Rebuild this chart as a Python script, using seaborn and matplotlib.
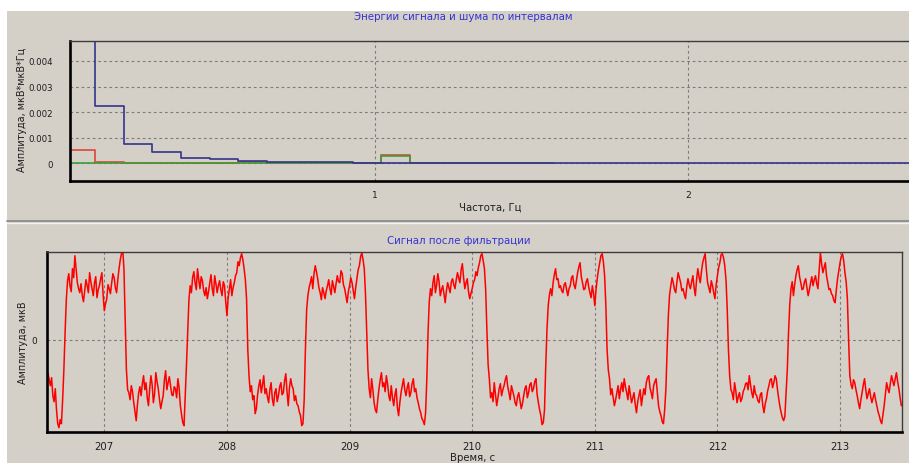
import numpy as np
import pandas as pd
import matplotlib
matplotlib.use("Agg")
import matplotlib.pyplot as plt
from matplotlib.patches import Rectangle
from matplotlib.lines import Line2D
from matplotlib.ticker import MultipleLocator
import seaborn as sns

# ---------------- band energies (upper panel) ----------------
band_start = 0.0139   # Hz, left edge of the first band
band_width = 0.0915   # Hz, width of one band

signal_energy = [0.0085, 0.00225, 0.00075, 0.00043, 0.00020, 0.00017, 0.00011,
                 0.00005, 0.00005, 0.00004, 0.00001, 0.00001, 0.00001, 0.00001,
                 0.00001, 0.00001, 0.00001, 0, 0, 0, 0, 0, 0, 0, 0, 0, 0, 0, 0, 0]
noise_energy = [0.00053, 0.00006, 0.00003, 0, 0, 0, 0.00005, 0, 0, 0, 0,
                0.00032, 0, 0, 0, 0, 0]
ref_energy = [0, 0, 0, 0, 0, 0, 0, 0, 0, 0, 0, 0.00029, 0, 0, 0, 0, 0]

freq_ticks = [1, 2]
freq_tick_labels = ["1", "2"]
energy_ticks = [0, 0.001, 0.002, 0.003, 0.004]
energy_tick_labels = ["0", "0.001", "0.002", "0.003", "0.004"]

# ---------------- filtered signal (lower panel) ----------------
t_start = 206.54   # s
t_step = 0.01      # s
filtered = [
    # 206.54 - 206.69
    -33, -40, -46, -38, -56, -62, -49, -70, -84, -88, -80, -84, -60, -30, 7, 40,
    # 206.70 - 207.16
    59, 66, 54, 48, 71, 62, 84, 70, 57, 51, 47, 56, 44, 38, 49, 60, 54, 47, 67, 58,
    51, 44, 57, 63, 42, 50, 54, 61, 67, 45, 29, 36, 41, 55, 51, 46, 57, 66, 62, 52,
    47, 60, 71, 80, 86, 90, 71,
    20, -30, -50,
    # 207.20 - 207.66
    -53, -60, -46, -52, -63, -72, -81, -65, -53, -47, -56, -44, -36, -50, -43, -58,
    -66, -49, -36, -45, -63, -54, -33, -42, -49, -60, -69, -62, -56, -40, -31, -50,
    -43, -37, -46, -55, -56, -47, -49, -58, -39, -48, -66, -75, -83, -86, -56,
    -25, 7, 40,
    # 207.70 - 208.16
    54, 47, 62, 68, 57, 50, 71, 60, 51, 63, 59, 49, 44, 52, 41, 48, 57, 65, 51, 44,
    64, 56, 47, 54, 59, 50, 44, 58, 54, 38, 24, 42, 51, 60, 44, 52, 57, 64, 67, 78,
    74, 82, 86, 80, 71, 60, 41,
    -10,
    # 208.18 - 208.62
    -36, -52, -46, -60, -56, -74, -69, -55, -46, -40, -53, -45, -36, -54, -49, -57,
    -63, -50, -43, -59, -66, -53, -49, -62, -56, -47, -43, -55, -53, -41, -34, -52,
    -66, -48, -39, -46, -49, -61, -56, -64, -66, -72, -76, -86, -84,
    -60, -9, 30, 44, 52,
    # 208.68 - 209.12
    57, 63, 51, 66, 74, 68, 61, 52, 47, 40, 52, 47, 41, 49, 54, 60, 51, 45, 59, 53,
    47, 56, 64, 58, 57, 69, 66, 55, 51, 44, 37, 48, 54, 62, 57, 49, 41, 52, 61, 70,
    74, 83, 87, 80, 71,
    45, 7, -30, -49, -58,
    # 209.18 - 209.62
    -39, -50, -63, -70, -73, -60, -49, -40, -33, -47, -43, -52, -36, -44, -56, -61,
    -46, -58, -66, -55, -49, -68, -76, -63, -53, -46, -39, -50, -56, -48, -43, -57,
    -53, -44, -39, -52, -49, -58, -63, -69, -73, -79, -81, -85, -73,
    -40, 7, 38, 51, 44,
    # 209.68 - 210.10
    57, 64, 47, 55, 66, 58, 44, 50, 54, 46, 37, 49, 57, 52, 47, 58, 61, 55, 51, 60,
    67, 62, 57, 70, 76, 62, 51, 57, 61, 48, 41, 46, 51, 57, 60, 68, 64, 72, 77, 84,
    86, 79, 71,
    50, 10, -25, -39, -58,
    # 210.16 - 210.58
    -53, -62, -43, -55, -66, -58, -49, -44, -56, -50, -46, -40, -36, -47, -53, -60,
    -46, -51, -56, -63, -66, -57, -53, -61, -69, -64, -56, -49, -46, -58, -53, -45,
    -43, -52, -49, -42, -39, -55, -63, -70, -76, -85, -83,
    -70, -26, 10, 34, 45,
    # 210.64 - 211.08
    51, 44, 57, 65, 71, 60, 61, 52, 54, 49, 47, 55, 57, 50, 44, 51, 54, 62, 64, 55,
    51, 59, 67, 73, 77, 63, 57, 50, 51, 58, 61, 53, 47, 42, 54, 46, 34, 50, 61, 70,
    77, 84, 86, 78, 64,
    35, -9, -30, -39, -55,
    # 211.14 - 211.56
    -49, -58, -66, -60, -53, -46, -59, -50, -43, -52, -39, -47, -53, -60, -46, -55,
    -63, -58, -53, -65, -73, -62, -56, -50, -66, -57, -49, -55, -43, -38, -36, -48,
    -53, -59, -46, -42, -39, -52, -66, -72, -76, -82, -84,
    -70, -49, -10, 24, 45, 54, 62,
    # 211.64 - 212.06
    57, 50, 47, 58, 67, 62, 57, 49, 51, 45, 41, 53, 61, 55, 51, 58, 64, 52, 44, 60,
    71, 63, 57, 68, 77, 82, 86, 70, 57, 52, 47, 59, 54, 47, 41, 55, 64, 72, 77, 85,
    86, 82, 74,
    60, 31, -10, -36, -50,
    # 212.12 - 212.56
    -53, -60, -43, -51, -63, -57, -53, -62, -59, -52, -49, -44, -43, -50, -36, -45,
    -53, -58, -46, -54, -56, -61, -63, -55, -53, -66, -73, -64, -59, -51, -46, -40,
    -39, -48, -43, -36, -39, -50, -59, -67, -73, -78, -81, -77, -53,
    -30, 7, 35, 51, 58,
    # 212.62 - 213.06
    44, 55, 64, 70, 74, 63, 57, 50, 51, 58, 61, 52, 44, 50, 57, 63, 54, 60, 64, 56,
    51, 70, 87, 76, 67, 72, 77, 64, 57, 50, 51, 46, 44, 39, 37, 50, 61, 69, 77, 83,
    86, 79, 67, 58, 41,
    0, -36, -45, -49, -40,
    # 213.12 - 213.50
    -43, -50, -56, -63, -69, -60, -53, -45, -39, -50, -59, -54, -49, -57, -63, -58,
    -53, -60, -66, -72, -76, -81, -84, -75, -66, -55, -43, -49, -53, -44, -36, -41,
    -46, -39, -33, -42, -49, -58, -66,
]
time_ticks = [207, 208, 209, 210, 211, 212, 213]
time_tick_labels = ["207", "208", "209", "210", "211", "212", "213"]

# ---------------- styling ----------------
PANEL = "#D4D0C8"
GRID = "#7c7c7c"
TITLE_BLUE = "#3434D2"
TEXT = "#1e1e1e"
W, H = 909, 464

sns.set_style("white", {"axes.facecolor": PANEL})
plt.rcParams["font.family"] = ["DejaVu Sans"]


def fx(px):
    return px / W


def fy(py):
    return 1 - py / H


def stairs_frame(values):
    n = len(values)
    edges = band_start + band_width * np.arange(n + 1)
    return pd.DataFrame({"freq": edges, "energy": list(values) + [values[-1]]})


fig = plt.figure(figsize=(W / 100, H / 100), dpi=100, facecolor="white")

# gray window panel and the groove between the two charts
fig.patches.append(Rectangle((fx(7), 0), 1 - fx(7), fy(12), transform=fig.transFigure,
                             facecolor=PANEL, edgecolor="none", zorder=-10))
fig.add_artist(Line2D([fx(7), 1], [fy(221.5)] * 2, color="#8c8c8c", lw=1.3))
fig.add_artist(Line2D([fx(7), 1], [fy(223.5)] * 2, color="#f2f2f2", lw=1.0))


def style_axes(ax, right_visible=True):
    ax.set_facecolor(PANEL)
    ax.set_axisbelow(True)
    ax.grid(True, which="major", color=GRID, ls=(0, (2.5, 2.5)), lw=0.8)
    for side in ("left", "bottom"):
        ax.spines[side].set_color("black")
        ax.spines[side].set_linewidth(1.9)
    ax.spines["top"].set_color("#3c3c3c")
    ax.spines["top"].set_linewidth(1.0)
    ax.spines["right"].set_color("#3c3c3c")
    ax.spines["right"].set_linewidth(1.0)
    ax.spines["right"].set_visible(right_visible)
    ax.tick_params(which="both", direction="out", colors="#202020", width=0.8)
    ax.tick_params(which="major", length=3)
    ax.tick_params(which="minor", length=2)
    ax.set_xlabel("")
    ax.set_ylabel("")


# ---------------- upper chart: band energies ----------------
ax1 = fig.add_axes([fx(70), fy(182), fx(842), 140 / H])
sns.lineplot(data=stairs_frame(noise_energy), x="freq", y="energy", ax=ax1,
             color="#E04535", lw=1.2, drawstyle="steps-post", estimator=None, sort=False)
sns.lineplot(data=stairs_frame(ref_energy), x="freq", y="energy", ax=ax1,
             color="#3C9E3C", lw=1.2, drawstyle="steps-post", estimator=None, sort=False)
sns.lineplot(data=stairs_frame(signal_energy), x="freq", y="energy", ax=ax1,
             color="#34348E", lw=1.2, drawstyle="steps-post", estimator=None, sort=False)
ax1.set_xlim(0.0256, 2.716)
ax1.set_ylim(-0.00069, 0.00478)
style_axes(ax1, right_visible=False)
ax1.set_xticks(freq_ticks)
ax1.set_xticklabels(freq_tick_labels, fontsize=6.6, color=TEXT)
ax1.set_yticks(energy_ticks)
ax1.set_yticklabels(energy_tick_labels, fontsize=6.2, color=TEXT)
ax1.xaxis.set_minor_locator(MultipleLocator(0.25))
ax1.yaxis.set_minor_locator(MultipleLocator(0.0005))
ax1.tick_params(axis="x", which="major", pad=3.5)
ax1.tick_params(axis="y", which="major", pad=9)

# ---------------- lower chart: filtered signal ----------------
ax2 = fig.add_axes([fx(46.7), fy(432.7), fx(855), 180 / H])
times = t_start + t_step * np.arange(len(filtered))
sig_df = pd.DataFrame({"time": times, "amp": filtered})
sns.lineplot(data=sig_df, x="time", y="amp", ax=ax2, color="#FF0000", lw=1.1,
             estimator=None, sort=False)
ax2.set_xlim(206.53, 213.503)
ax2.set_ylim(-92, 88)
style_axes(ax2, right_visible=True)
ax2.set_xticks(time_ticks)
ax2.set_xticklabels(time_tick_labels, fontsize=7.3, color=TEXT)
ax2.set_yticks([0])
ax2.set_yticklabels(["0"], fontsize=6.5, color=TEXT)
ax2.xaxis.set_minor_locator(MultipleLocator(0.25))
ax2.tick_params(axis="x", which="major", pad=3.5)
ax2.tick_params(axis="y", which="major", pad=4)

# ---------------- titles and axis names ----------------
fig.text(fx(463), fy(17), "Энергии сигнала и шума по интервалам", color=TITLE_BLUE,
         fontsize=7.4, ha="center", va="center")
fig.text(fx(490), fy(208), "Частота, Гц", color=TEXT, fontsize=7.3, ha="center", va="center")
fig.text(fx(22), fy(110), "Амплитуда, мкВ*мкВ*Гц", color=TEXT, fontsize=6.9,
         rotation=90, ha="center", va="center")

fig.text(fx(459), fy(241.5), "Сигнал после фильтрации", color=TITLE_BLUE,
         fontsize=7.4, ha="center", va="center")
fig.text(fx(473), fy(458), "Время, с", color=TEXT, fontsize=7.3, ha="center", va="center")
fig.text(fx(23), fy(343), "Амплитуда, мкВ", color=TEXT, fontsize=6.9,
         rotation=90, ha="center", va="center")

fig.savefig("out.png", dpi=100, facecolor="white")
